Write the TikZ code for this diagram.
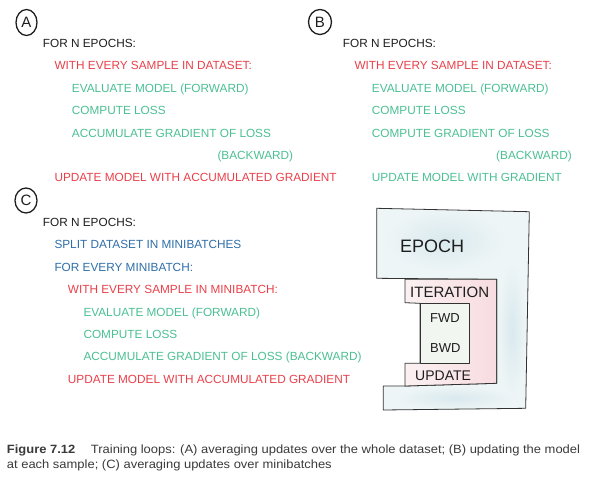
\documentclass[tikz,border=0pt]{standalone}
\usepackage{fontspec}
\setmainfont{Liberation Sans}
\newfontfamily\capfont[FakeStretch=1.08]{Liberation Sans}
\definecolor{ink}{HTML}{1E1E1E}
\definecolor{lineink}{HTML}{333333}
\definecolor{hred}{HTML}{E8404A}
\definecolor{hgreen}{HTML}{4BBF94}
\definecolor{hblue}{HTML}{2F6EA8}
\definecolor{epochfill}{HTML}{EEF5F6}
\definecolor{epochblob}{HTML}{D9E9EE}
\definecolor{iterleft}{HTML}{FBF1F2}
\definecolor{iterright}{HTML}{F7DCE0}
\definecolor{fwdfill}{HTML}{F2F6F1}
\definecolor{capgray}{HTML}{3A3A3A}
\begin{document}
\begin{tikzpicture}[x=1pt,y=-1pt,
  hand/.style={font=\fontsize{11.8}{12}\selectfont, anchor=base west, inner sep=0pt},
  ktxt/.style={hand, text=ink},
  rtxt/.style={hand, text=hred},
  gtxt/.style={hand, text=hgreen},
  btxt/.style={hand, text=hblue},
  tagtxt/.style={inner sep=0pt, font=\fontsize{15}{15}\selectfont, text=ink},
  sketch/.style={draw=lineink, line width=0.8pt, line join=round},
  lbl/.style={inner sep=0pt, anchor=base west, text=ink},
  captext/.style={inner sep=0pt, anchor=base west, text=capgray, font=\capfont\fontsize{12}{13}\selectfont}
]
\useasboundingbox (0,0) rectangle (598,480);

% ---------- A ----------
\node[tagtxt] (tA) at (26.5,22.5) {A};
\draw[ink, line width=1.3pt] (tA.center) ellipse [x radius=10.5pt, y radius=13pt];
\node[ktxt] (a1) at (42.7,47) {FOR N EPOCHS:};
\node[rtxt] (a2) at (54.3,69.5) {WITH EVERY SAMPLE IN DATASET:};
\node[gtxt] (a3) at (71.7,92) {EVALUATE MODEL (FORWARD)};
\node[gtxt] (a4) at (71.7,114.5) {COMPUTE LOSS};
\node[gtxt] (a5) at (71.7,137) {ACCUMULATE GRADIENT OF LOSS};
\node[gtxt] (a6) at (217.3,159) {(BACKWARD)};
\node[rtxt] (a7) at (54.3,181.5) {UPDATE MODEL WITH ACCUMULATED GRADIENT};

% ---------- B ----------
\node[tagtxt] (tB) at (320,22) {B};
\draw[ink, line width=1.3pt] (tB.center) ellipse [x radius=11.5pt, y radius=12.5pt];
\node[ktxt] (b1) at (342.7,47) {FOR N EPOCHS:};
\node[rtxt] (b2) at (354.3,69.5) {WITH EVERY SAMPLE IN DATASET:};
\node[gtxt] (b3) at (371.7,92) {EVALUATE MODEL (FORWARD)};
\node[gtxt] (b4) at (371.7,114.5) {COMPUTE LOSS};
\node[gtxt] (b5) at (371.7,137) {COMPUTE GRADIENT OF LOSS};
\node[gtxt] (b6) at (496,159) {(BACKWARD)};
\node[gtxt] (b7) at (371.7,181.5) {UPDATE MODEL WITH GRADIENT};

% ---------- C ----------
\node[tagtxt] (tC) at (26,200.5) {C};
\draw[ink, line width=1.3pt] (tC.center) ellipse [x radius=11pt, y radius=12.5pt];
\node[ktxt] (c1) at (42.7,226.5) {FOR N EPOCHS:};
\node[btxt] (c2) at (54.3,248.8) {SPLIT DATASET IN MINIBATCHES};
\node[btxt] (c3) at (54.3,271.2) {FOR EVERY MINIBATCH:};
\node[rtxt] (c4) at (67.7,293.6) {WITH EVERY SAMPLE IN MINIBATCH:};
\node[gtxt] (c5) at (83.3,316) {EVALUATE MODEL (FORWARD)};
\node[gtxt] (c6) at (83.3,338.4) {COMPUTE LOSS};
\node[gtxt] (c7) at (83.3,360.8) {ACCUMULATE GRADIENT OF LOSS (BACKWARD)};
\node[rtxt] (c8) at (67.7,383.2) {UPDATE MODEL WITH ACCUMULATED GRADIENT};

% ---------- diagram ----------
\def\epochpath{(376.7,208.3) -- (529.3,211.7) -- (525.7,408.3) -- (383.3,410)
  -- (383.3,386) -- (405,386) -- (496.7,383.3) -- (496.7,279.3) -- (376.7,278.3) -- cycle}
\fill[epochfill] \epochpath;
\begin{scope}
  \clip \epochpath;
  \shade[inner color=epochblob, outer color=epochfill] (445,240) ellipse [x radius=60pt, y radius=32pt];
  \shade[inner color=epochblob, outer color=epochfill] (512,330) ellipse [x radius=14pt, y radius=70pt];
  \shade[inner color=epochblob, outer color=epochfill] (455,398) ellipse [x radius=60pt, y radius=12pt];
\end{scope}
\draw[sketch] \epochpath;

\path[sketch, left color=iterleft, right color=iterright] (405,279.3) -- (496.7,279.3) -- (496.7,383.3) -- (405,386)
  -- (405,363.3) -- (420,363.3) -- (420,303.3) -- (405,302.7) -- cycle;
\path[sketch, fill=fwdfill] (420,303.3) -- (469.3,303.3) -- (469.3,363.3) -- (420,363.3) -- cycle;

\node[lbl, font=\fontsize{18}{18}\selectfont] (epoch) at (400,252) {EPOCH};
\node[lbl, font=\fontsize{15}{15}\selectfont] (iter) at (410,297) {ITERATION};
\node[lbl, font=\fontsize{13}{13}\selectfont] (fwd) at (430,322.7) {FWD};
\node[lbl, font=\fontsize{13}{13}\selectfont] (bwd) at (430,352.7) {BWD};
\node[lbl, font=\fontsize{14}{14}\selectfont] (upd) at (415,380) {UPDATE};

% ---------- caption ----------
\node[captext] (cap1) at (6.7,453.3) {\textbf{Figure 7.12}\hspace{1.3em}Training loops: (A) averaging updates over the whole dataset; (B) updating the model};
\node[captext] (cap2) at (6.7,468.3) {at each sample; (C) averaging updates over minibatches};
\end{tikzpicture}
\end{document}
